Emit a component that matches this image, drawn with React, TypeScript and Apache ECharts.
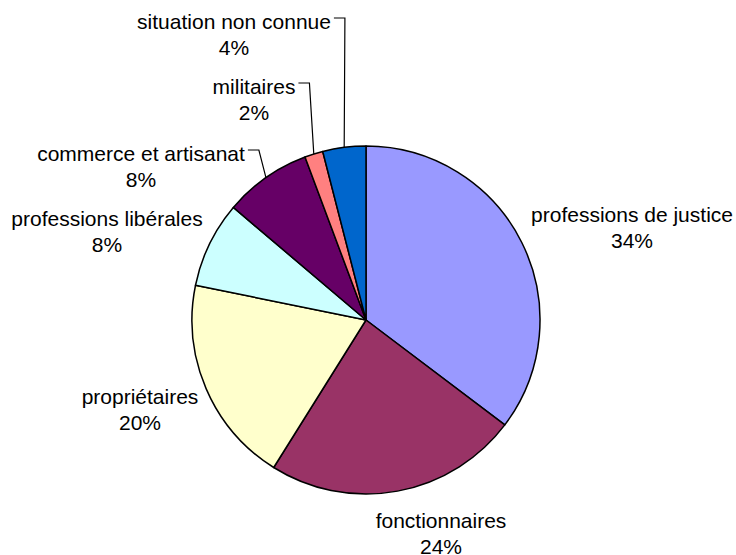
import React, { useEffect, useRef } from "react";
import * as echarts from "echarts";

// Categories in drawing order (clockwise from 12 o'clock)
const categories = [
  "professions de justice",
  "fonctionnaires",
  "propriétaires",
  "professions libérales",
  "commerce et artisanat",
  "militaires",
  "situation non connue",
];
// Slice shares as drawn in the picture (percent of the circle)
const values = [35.3, 23.6, 19.3, 8.0, 8.1, 1.7, 4.0];
// Percent labels as printed on the chart
const percentLabels = ["34%", "24%", "20%", "8%", "8%", "2%", "4%"];
const sliceColors = ["#9999FF", "#993366", "#FFFFCC", "#CCFFFF", "#660066", "#FF8080", "#0066CC"];

// layout
const CX = 366;
const CY = 320;
const R = 174;
const labelCenters: [number, number][] = [
  [632, 227],
  [441, 533],
  [140, 409],
  [107, 231],
  [141, 166],
  [254, 99],
  [234, 34],
];
const withLeader = [false, false, false, false, true, true, true];

export default function App() {
  const ref = useRef<HTMLDivElement>(null);
  useEffect(() => {
    if (!ref.current) return;
    const chart = echarts.init(ref.current, undefined, { renderer: "svg" });
    const total = values.reduce((a, b) => a + b, 0);
    const midAngles: number[] = [];
    let acc = 0;
    values.forEach((v) => {
      const a0 = (acc / total) * 2 * Math.PI;
      acc += v;
      const a1 = (acc / total) * 2 * Math.PI;
      midAngles.push((a0 + a1) / 2);
    });
    chart.setOption({
      animation: false,
      backgroundColor: "#ffffff",
      series: [
        {
          type: "pie",
          center: [CX, CY],
          radius: R,
          startAngle: 90,
          clockwise: true,
          silent: true,
          avoidLabelOverlap: false,
          itemStyle: { borderColor: "#000000", borderWidth: 1.5 },
          emphasis: { disabled: true },
          label: {
            show: true,
            position: "outside",
            alignTo: "none",
            color: "#000000",
            fontFamily: "'Liberation Sans', Arial, sans-serif",
            fontSize: 21,
            lineHeight: 26,
            align: "center",
            formatter: (p: any) => `${p.name}\n${percentLabels[p.dataIndex]}`,
          },
          labelLine: { show: true, lineStyle: { color: "#000000", width: 1.2 } },
          labelLayout: (params: any) => {
            const i = params.dataIndex;
            const [x, y] = labelCenters[i];
            const out: any = { x, y, align: "center", verticalAlign: "middle" };
            if (withLeader[i]) {
              const w = params.labelRect.width;
              const h = params.labelRect.height;
              const sx = x + w / 2 + 3;
              const sy = y - h / 2 + 10;
              const a = midAngles[i];
              const rx = CX + R * Math.sin(a);
              const ry = CY - R * Math.cos(a);
              out.labelLinePoints = [
                [sx, sy],
                [sx + 11, sy],
                [rx, ry],
              ];
            }
            return out;
          },
          data: categories.map((name, i) => ({
            name,
            value: values[i],
            itemStyle: { color: sliceColors[i] },
            labelLine: { show: withLeader[i] },
          })),
        },
      ],
    });
    return () => chart.dispose();
  }, []);
  return (
    <div
      ref={ref}
      style={{ position: "fixed", left: 0, top: 0, width: 736, height: 555, background: "#fff" }}
    />
  );
}
